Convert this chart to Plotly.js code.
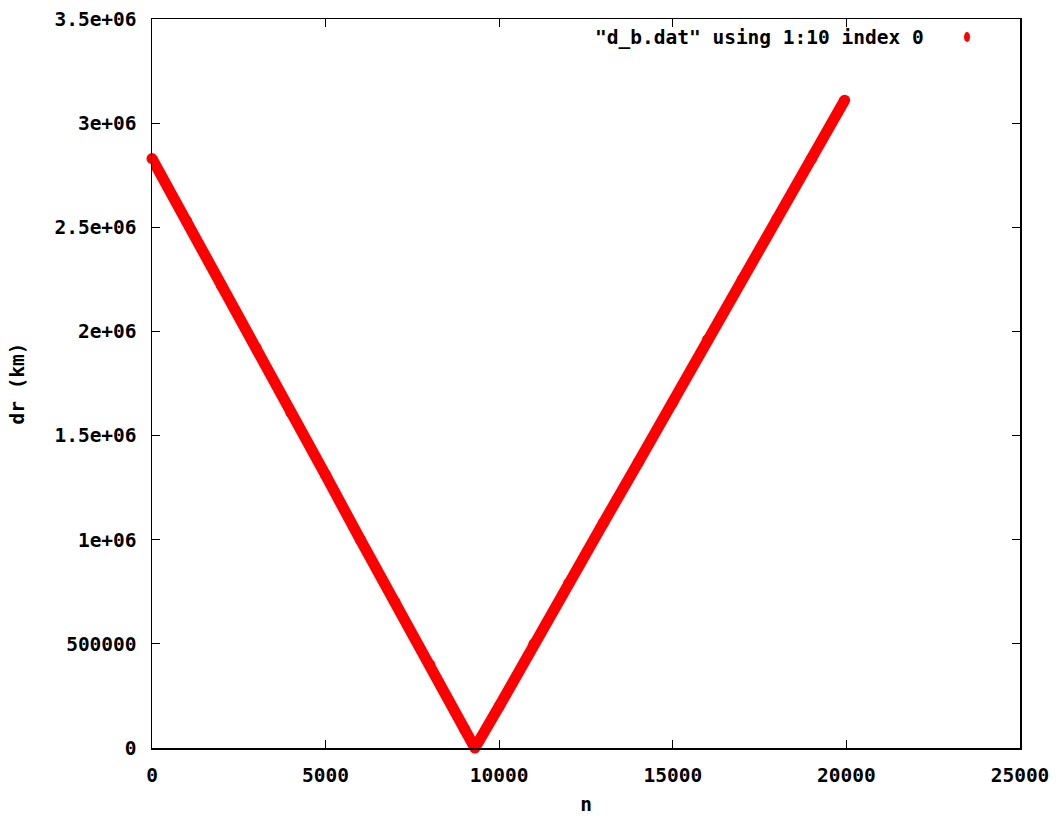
<!DOCTYPE html>
<html>
<head>
<meta charset="utf-8">
<script src="https://cdn.plot.ly/plotly-3.0.1.min.js"></script>
<style>html,body{margin:0;padding:0;background:#fff;}</style>
</head>
<body>
<div id="chart" style="width:1060px;height:816px;"></div>
<script>
// values
var nValues = [0, 1000, 2000, 3000, 4000, 5000, 6000, 7000, 8000, 9000, 9300,
               10000, 11000, 12000, 13000, 14000, 15000, 16000, 17000, 18000, 19000, 19950];
var drValues = [2830000, 2530000, 2220000, 1920000, 1610000, 1310000, 1000000, 700000, 400000, 90000, 0,
                200000, 500000, 790000, 1080000, 1370000, 1660000, 1960000, 2250000, 2540000, 2830000, 3110000];
var seriesName = '"d_b.dat" using 1:10 index 0';
var yTickVals = [0, 500000, 1000000, 1500000, 2000000, 2500000, 3000000, 3500000];
var yTickText = ['0', '500000', '1e+06', '1.5e+06', '2e+06', '2.5e+06', '3e+06', '3.5e+06'];
var xTickVals = [0, 5000, 10000, 15000, 20000, 25000];
var xTickText = ['0', '5000', '10000', '15000', '20000', '25000'];

var font = {family: 'DejaVu Sans Mono', size: 19.5, color: '#000', weight: 'bold'};

var trace = {
  x: nValues, y: drValues, type: 'scatter', mode: 'lines+markers',
  name: seriesName, showlegend: false, cliponaxis: false,
  line: {color: '#ff0000', width: 11},
  marker: {color: '#ff0000', size: 11, line: {width: 0}}
};

var axisCommon = {
  showline: true, linecolor: '#000', linewidth: 1.5, mirror: 'ticks',
  ticks: 'inside', ticklen: 8, tickwidth: 1.2, tickcolor: '#000',
  showgrid: false, zeroline: false, tickfont: font, tickmode: 'array'
};

var layout = {
  width: 1060, height: 816,
  margin: {l: 152, r: 40, t: 19, b: 68},
  paper_bgcolor: '#fff', plot_bgcolor: '#fff',
  font: font,
  xaxis: Object.assign({}, axisCommon, {
    range: [0, 25000], tickvals: xTickVals, ticktext: xTickText,
    ticklabelstandoff: 9,
    title: {text: 'n', font: font, standoff: 12}
  }),
  yaxis: Object.assign({}, axisCommon, {
    range: [0, 3500000], tickvals: yTickVals, ticktext: yTickText,
    ticklabelstandoff: 10,
    title: {text: 'dr (km)', font: font, standoff: 24}
  }),
  annotations: [{
    xref: 'paper', yref: 'paper', x: 0.8917, y: 0.9753,
    xanchor: 'right', yanchor: 'middle', showarrow: false,
    text: seriesName, font: font
  }],
  shapes: [{
    type: 'circle', xref: 'paper', yref: 'paper',
    x0: 0.9355, x1: 0.9424, y0: 0.9684, y1: 0.9822,
    fillcolor: '#ff0000', line: {width: 0}
  }]
};

Plotly.newPlot('chart', [trace], layout, {displayModeBar: false, staticPlot: true});
</script>
</body>
</html>
